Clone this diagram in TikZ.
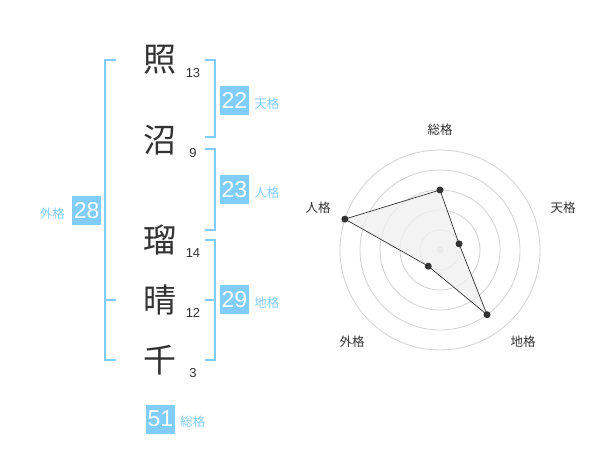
\documentclass[tikz,border=0pt]{standalone}
\usepackage{fontspec}
\setmainfont{Liberation Sans}
\newfontfamily\jpfont{Noto Sans CJK JP}
\usetikzlibrary{positioning}
\definecolor{kakublue}{RGB}{130,205,255}
\definecolor{inkgray}{RGB}{51,51,51}
\definecolor{ringgray}{RGB}{210,210,210}
\definecolor{areagray}{RGB}{240,240,240}
\tikzset{
  kanji/.style={font=\jpfont\fontsize{33}{33}\selectfont, text=inkgray, inner sep=0pt},
  strokes/.style={font=\fontsize{13}{13}\selectfont, text=inkgray, inner sep=0pt},
  bracket/.style={draw=kakublue, line width=2pt},
  valbox/.style={fill=kakublue, text=white, minimum size=29pt, inner sep=0pt, font=\fontsize{23}{23}\selectfont},
  kakutag/.style={text=kakublue, inner sep=0pt, font=\jpfont\fontsize{12.5}{12.5}\selectfont},
  ring/.style={draw=ringgray, line width=0.8pt},
  axistag/.style={text=inkgray, inner sep=0pt, font=\jpfont\fontsize{12.5}{12.5}\selectfont},
  valdot/.style={circle, fill=inkgray, minimum size=7pt, inner sep=0pt},
}
\begin{document}
\begin{tikzpicture}[x=1pt,y=-1pt]
    \useasboundingbox[fill=white] (0,0) rectangle (600,470);

    % Name characters
    \node[kanji] (c1) at (160,60) {照};
    \node[kanji] (c2) at (160,140) {沼};
    \node[kanji] (c3) at (160,240) {瑠};
    \node[kanji] (c4) at (160,300) {晴};
    \node[kanji] (c5) at (160,360) {千};

    % Stroke counts
    \node[strokes] (n1) at (193,73) {13};
    \node[strokes] (n2) at (193,153) {9};
    \node[strokes] (n3) at (193,253) {14};
    \node[strokes] (n4) at (193,313) {12};
    \node[strokes] (n5) at (193,373) {3};

    % Brackets
    \draw[bracket] (116,60) -| (105,360) -- (116,360);
    \draw[bracket] (105,300) -- (116,300);
    \draw[bracket] (205,60) -| (215,137) -- (205,137);
    \draw[bracket] (205,149) -| (215,230) -- (205,230);
    \draw[bracket] (205,240) -| (215,360) -- (205,360);
    \draw[bracket] (205,300) -- (215,300);

    % Values
    \node[valbox] (bten) at (234.5,100.5) {22};
    \node[kakutag, right=5pt of bten, yshift=-3pt] (tten) {天格};
    \node[valbox] (bjin) at (234.5,190) {23};
    \node[kakutag, right=5pt of bjin, yshift=-3pt] (tjin) {人格};
    \node[valbox] (bchi) at (234.5,300) {29};
    \node[kakutag, right=5pt of bchi, yshift=-3pt] (tchi) {地格};
    \node[valbox] (bgai) at (86.7,210.5) {28};
    \node[kakutag, left=7pt of bgai, yshift=-3pt] (tgai) {外格};
    \node[valbox] (bsou) at (160.5,419) {51};
    \node[kakutag, right=5pt of bsou, yshift=-3pt] (tsou) {総格};

    % Radar chart
    \coordinate (ctr) at (440,250);
    \foreach \r in {20,40,60,80,100}
        \draw[ring] (ctr) circle (\r pt);
    \fill[ringgray] (ctr) circle (3.5pt);

    \coordinate (psou) at ([shift={(-90:60)}]ctr);
    \coordinate (pten) at ([shift={(-18:20)}]ctr);
    \coordinate (pchi) at ([shift={(54:80)}]ctr);
    \coordinate (pgai) at ([shift={(126:20)}]ctr);
    \coordinate (pjin) at ([shift={(198:100)}]ctr);

    \draw[fill=areagray, fill opacity=0.8, draw=inkgray, line width=0.7pt]
        (psou) -- (pten) -- (pchi) -- (pgai) -- (pjin) -- cycle;
    \node[valdot] (dsou) at (psou) {};
    \node[valdot] (dten) at (pten) {};
    \node[valdot] (dchi) at (pchi) {};
    \node[valdot] (dgai) at (pgai) {};
    \node[valdot] (djin) at (pjin) {};

    \node[axistag] (asou) at (440,130) {総格};
    \node[axistag] (aten) at (563,208) {天格};
    \node[axistag] (achi) at (523,342) {地格};
    \node[axistag] (agai) at (352,342) {外格};
    \node[axistag] (ajin) at (318,208) {人格};
\end{tikzpicture}
\end{document}
